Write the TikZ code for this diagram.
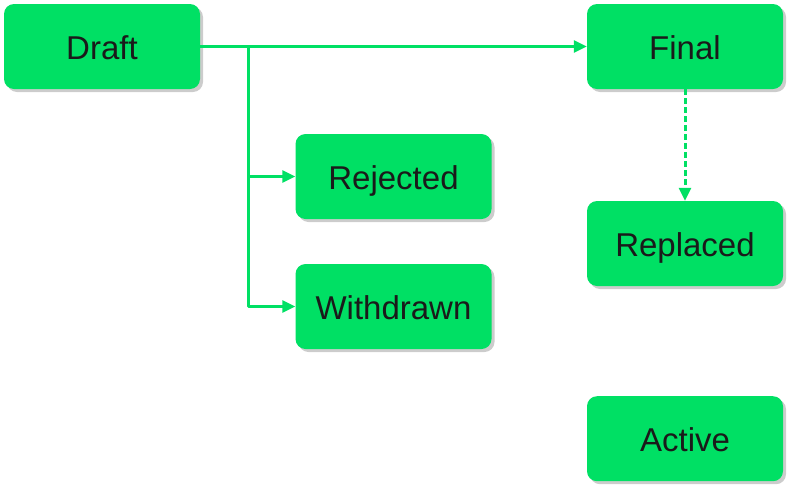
\documentclass[tikz,border=0pt]{standalone}
\usepackage{fontspec}
\setmainfont{Liberation Sans}
\usetikzlibrary{arrows.meta,shadows}
\definecolor{stategreen}{RGB}{0,224,100}
\definecolor{statetext}{RGB}{26,26,26}

\begin{document}
\begin{tikzpicture}[x=1pt,y=-1pt,line cap=butt,line join=round,
  state/.style={draw=none,fill=stategreen,rounded corners=10pt,
    minimum width=196pt,minimum height=85pt,inner sep=0pt,
    text height=25pt,text depth=0pt,
    text=statetext,font=\fontsize{33}{38}\selectfont,
    drop shadow={opacity=.4,shadow xshift=3pt,shadow yshift=-3pt}},
  flow/.style={draw=stategreen,line width=3pt,
    -{Triangle[length=13pt,width=12pt]}},
  later/.style={flow,dash pattern=on 6pt off 3pt}]

\useasboundingbox (0,0) rectangle (796,496);

% States.
\node[state] (draft)     at (102,46.5)   {Draft};
\node[state] (final)     at (685,46.5)   {Final};
\node[state] (rejected)  at (393.5,176.5) {Rejected};
\node[state] (withdrawn) at (393.5,306.5) {Withdrawn};
\node[state] (replaced)  at (685,243.5)  {Replaced};
\node[state] (active)    at (685,438.7)  {Active};

% Transitions out of the draft.
\coordinate (fork) at (248,46.5);
\draw[flow] (draft.east) -- (final.west);
\draw[flow] (fork) |- (rejected.west);
\draw[flow] (fork) |- (withdrawn.west);

% Final may later be replaced.
\draw[later] (final.south) -- (replaced.north);

\end{tikzpicture}
\end{document}
